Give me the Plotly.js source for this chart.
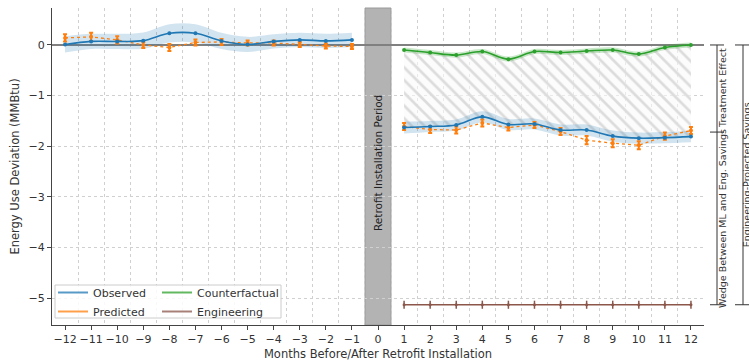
<!DOCTYPE html>
<html>
<head>
<meta charset="utf-8">
<script src="https://cdn.plot.ly/plotly-3.0.1.min.js"></script>
<style>html,body{margin:0;padding:0;background:#fff;}#chart{width:749px;height:361px;}</style>
</head>
<body>
<div id="chart"></div>
<script>
// ---- data ----
const preMonths = [-12,-11,-10,-9,-8,-7,-6,-5,-4,-3,-2,-1];
const postMonths = [1,2,3,4,5,6,7,8,9,10,11,12];
const xTickVals = [-12,-11,-10,-9,-8,-7,-6,-5,-4,-3,-2,-1,0,1,2,3,4,5,6,7,8,9,10,11,12];

const observedPre = [0.01,0.07,0.07,0.085,0.23,0.23,0.08,0.01,0.07,0.10,0.08,0.10];
const observedPreBand = [0.16,0.15,0.15,0.16,0.18,0.18,0.16,0.15,0.14,0.14,0.14,0.14];
const predictedPre = [0.14,0.16,0.10,0.00,-0.05,0.05,0.06,0.04,0.04,0.01,-0.02,-0.03];
const predictedPreErr = [0.07,0.08,0.07,0.06,0.07,0.06,0.06,0.05,0.05,0.05,0.05,0.05];

const observedPost = [-1.63,-1.61,-1.58,-1.42,-1.57,-1.56,-1.68,-1.68,-1.80,-1.84,-1.83,-1.81];
const observedPostBand = [0.12,0.11,0.11,0.11,0.11,0.11,0.11,0.11,0.11,0.11,0.11,0.11];
const predictedPost = [-1.61,-1.67,-1.68,-1.54,-1.63,-1.58,-1.71,-1.88,-1.94,-1.98,-1.80,-1.69];
const predictedPostErr = [0.07,0.07,0.07,0.07,0.06,0.06,0.07,0.08,0.08,0.08,0.07,0.07];

const counterfactual = [-0.10,-0.15,-0.20,-0.13,-0.28,-0.13,-0.15,-0.12,-0.10,-0.18,-0.05,0.00];
const counterfactualBand = [0.05,0.05,0.05,0.05,0.05,0.05,0.05,0.05,0.05,0.05,0.05,0.05];

const engineering = [-5.13,-5.13,-5.13,-5.13,-5.13,-5.13,-5.13,-5.13,-5.13,-5.13,-5.13,-5.13];
const engineeringErr = [0.08,0.08,0.08,0.08,0.08,0.08,0.08,0.08,0.08,0.08,0.08,0.08];

const bracketLevels = [0, -1.72, -5.13];
const bracketLabels = ["Treatment Effect", "Wedge Between ML and Eng. Savings", "Engineering-Projected Savings"];
const installPeriod = [-0.5, 0.5];
const installLabel = "Retrofit Installation Period";
const legendNames = ["Observed", "Predicted", "Counterfactual", "Engineering"];

// ---- styles ----
const BLUE = '#1f77b4', ORANGE = '#ff7f0e', GREEN = '#2ca02c', ENG = '#8c564b';
const FONT = 'DejaVu Sans, Liberation Sans, sans-serif';
const add = (a, b, s) => a.map((v, i) => v + s * b[i]);

const traces = [];
// hatched wedge between counterfactual and observed (post)
traces.push({x: postMonths, y: observedPost, mode: 'lines', line: {width: 0, shape: 'spline'}, showlegend: false, hoverinfo: 'skip'});
traces.push({x: postMonths, y: counterfactual, mode: 'lines', line: {width: 0, shape: 'spline'}, fill: 'tonexty',
  fillcolor: 'rgba(248,248,248,0.6)',
  fillpattern: {shape: '\\', fgcolor: '#dcdcdc', bgcolor: 'rgba(250,250,250,0.6)', size: 9, solidity: 0.3},
  showlegend: false, hoverinfo: 'skip'});

// bands
function band(x, y, w, color) {
  traces.push({x: x, y: add(y, w, -1), mode: 'lines', line: {width: 0, shape: 'spline'}, showlegend: false, hoverinfo: 'skip'});
  traces.push({x: x, y: add(y, w, 1), mode: 'lines', line: {width: 0, shape: 'spline'}, fill: 'tonexty', fillcolor: color, showlegend: false, hoverinfo: 'skip'});
}
band(preMonths, observedPre, observedPreBand, 'rgba(31,119,180,0.2)');
band(postMonths, observedPost, observedPostBand, 'rgba(31,119,180,0.2)');
band(postMonths, counterfactual, counterfactualBand, 'rgba(44,160,44,0.25)');

// predicted
[[preMonths, predictedPre, predictedPreErr], [postMonths, predictedPost, predictedPostErr]].forEach(d => {
  traces.push({x: d[0], y: d[1], mode: 'lines+markers', line: {color: ORANGE, width: 1.3, dash: 'dot'},
    marker: {color: ORANGE, size: 4},
    error_y: {type: 'data', array: d[2], visible: true, color: ORANGE, thickness: 2, width: 2},
    showlegend: false});
});
// observed
[[preMonths, observedPre], [postMonths, observedPost]].forEach(d => {
  traces.push({x: d[0], y: d[1], mode: 'lines+markers', line: {color: BLUE, width: 1.6, shape: 'spline'},
    marker: {color: BLUE, size: 4}, showlegend: false});
});
// counterfactual
traces.push({x: postMonths, y: counterfactual, mode: 'lines+markers', line: {color: GREEN, width: 1.6, shape: 'spline'},
  marker: {color: GREEN, size: 4}, showlegend: false});
// engineering
traces.push({x: postMonths, y: engineering, mode: 'lines+markers', line: {color: ENG, width: 1.5},
  marker: {color: ENG, size: 3},
  error_y: {type: 'data', array: engineeringErr, visible: true, color: ENG, thickness: 1.5, width: 0},
  showlegend: false});

// legend-only entries
const legColors = [BLUE, ORANGE, GREEN, ENG];
const legIds = ['legend', 'legend', 'legend2', 'legend2'];
legendNames.forEach((n, i) => {
  traces.push({x: [null], y: [null], mode: 'lines', name: n, line: {color: legColors[i], width: 2}, opacity: 0.75,
    legend: legIds[i], showlegend: true});
});

// plot area geometry (px) for paper-referenced decorations
const L = 52, R = 45, T = 8, B = 36, W = 749, H = 361;
const PW = W - L - R, PH = H - T - B;
const px = v => (v - L) / PW;
const py = v => (H - B - v) / PH;

const shapes = [
  {type: 'rect', xref: 'x', yref: 'paper', x0: installPeriod[0], x1: installPeriod[1], y0: 0, y1: 1,
   fillcolor: '#b3b3b3', line: {color: '#9a9a9a', width: 1}, layer: 'below'},
  // legend box
  {type: 'rect', xref: 'paper', yref: 'paper', x0: px(55), x1: px(281), y0: py(318), y1: py(285),
   fillcolor: 'rgba(255,255,255,0.85)', line: {color: '#cccccc', width: 1}, layer: 'above'},
];
// brackets
function bracket(xc, y0, y1) {
  shapes.push({type: 'line', xref: 'paper', yref: 'y', x0: px(xc), x1: px(xc), y0: y0, y1: y1, line: {color: '#333', width: 1}});
}
function tick(xa, xb, y) {
  shapes.push({type: 'line', xref: 'paper', yref: 'y', x0: px(xa), x1: px(xb), y0: y, y1: y, line: {color: '#333', width: 1}});
}
bracket(717, bracketLevels[0], bracketLevels[2]);
bracketLevels.forEach(v => tick(710, 724, v));
bracket(743, bracketLevels[0], bracketLevels[2]);
tick(735, 752, bracketLevels[0]);
tick(735, 752, bracketLevels[2]);

const annFont = {family: FONT, size: 9.5, color: '#333'};
const annotations = [
  {xref: 'x', yref: 'y', x: 0, y: -2.33, text: installLabel, textangle: -90, showarrow: false,
   font: {family: FONT, size: 10.5, color: '#222'}},
  {xref: 'paper', yref: 'y', x: px(730), y: (bracketLevels[0] + bracketLevels[1]) / 2, text: bracketLabels[0],
   textangle: -90, showarrow: false, font: annFont},
  {xref: 'paper', yref: 'y', x: px(730), y: (bracketLevels[1] + bracketLevels[2]) / 2, text: bracketLabels[1],
   textangle: -90, showarrow: false, font: annFont},
  {xref: 'paper', yref: 'y', x: px(754), y: (bracketLevels[0] + bracketLevels[2]) / 2, text: bracketLabels[2],
   textangle: -90, showarrow: false, font: annFont},
];

const legendCommon = {xanchor: 'left', y: py(326), yanchor: 'bottom', bgcolor: 'rgba(0,0,0,0)', borderwidth: 0,
  font: {size: 11, family: FONT, color: '#333'}, tracegroupgap: 0, itemwidth: 30, traceorder: 'normal'};

const layout = {
  width: W, height: H,
  margin: {l: L, r: R, t: T, b: B, pad: 0},
  paper_bgcolor: '#fff', plot_bgcolor: '#fff',
  font: {family: FONT, size: 11, color: '#333'},
  showlegend: true,
  xaxis: {
    range: [-12.5, 12.5], tickmode: 'array', tickvals: xTickVals,
    ticktext: xTickVals.map(v => v < 0 ? '\u2212' + Math.abs(v) : String(v)),
    showgrid: false, zeroline: false, showline: true, linecolor: '#444', linewidth: 1,
    ticks: 'outside', ticklen: 4, tickcolor: '#444', tickfont: {size: 11, family: FONT, color: '#333'},
    minor: {tick0: 0.5, dtick: 1, showgrid: true, gridcolor: '#d0d0d0', griddash: 'dot', gridwidth: 1, ticks: ''},
    title: {text: 'Months Before/After Retrofit Installation', font: {size: 11.5, family: FONT, color: '#333'}, standoff: 4},
    automargin: false,
  },
  yaxis: {
    range: [-5.53, 0.73], tickmode: 'array', tickvals: [0, -1, -2, -3, -4, -5],
    ticktext: ['0', '\u22121', '\u22122', '\u22123', '\u22124', '\u22125'],
    showgrid: true, gridcolor: '#d0d0d0', griddash: 'dot', gridwidth: 1,
    zeroline: true, zerolinecolor: '#808080', zerolinewidth: 1.2,
    showline: true, linecolor: '#444', linewidth: 1,
    ticks: 'outside', ticklen: 4, tickcolor: '#444', tickfont: {size: 11, family: FONT, color: '#333'},
    title: {text: 'Energy Use Deviation (MMBtu)', font: {size: 11.5, family: FONT, color: '#333'}, standoff: 6},
    automargin: false,
  },
  legend: Object.assign({x: px(53)}, legendCommon),
  legend2: Object.assign({x: px(157)}, legendCommon),
  shapes: shapes,
  annotations: annotations,
};

Plotly.newPlot('chart', traces, layout, {staticPlot: true, displayModeBar: false});
</script>
</body>
</html>
